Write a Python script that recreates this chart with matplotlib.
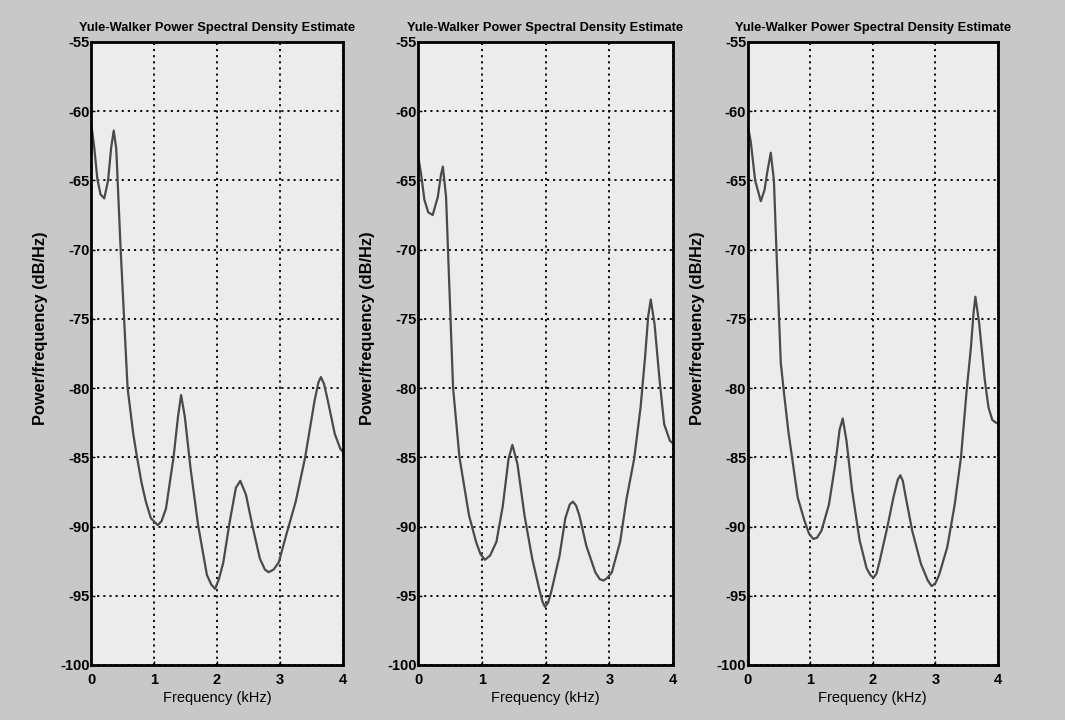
import matplotlib

matplotlib.use("Agg")
import matplotlib.pyplot as plt

plt.rcParams["axes.unicode_minus"] = False

TITLE = "Yule-Walker Power Spectral Density Estimate"
XLABEL = "Frequency (kHz)"
YLABEL = "Power/frequency (dB/Hz)"
XTICKS = [0, 1, 2, 3, 4]
YTICKS = [-100, -95, -90, -85, -80, -75, -70, -65, -60, -55]

# values (kHz, dB/Hz)
freq1 = [0.0, 0.05, 0.10, 0.15, 0.21, 0.27, 0.32, 0.36, 0.40, 0.47, 0.58, 0.67, 0.73,
         0.80, 0.87, 0.95, 1.06, 1.12, 1.19, 1.31, 1.38, 1.43, 1.49, 1.58, 1.70, 1.84,
         1.91, 1.97, 2.03, 2.10, 2.20, 2.30, 2.37, 2.46, 2.57, 2.68, 2.76, 2.82, 2.90,
         2.98, 3.10, 3.25, 3.40, 3.55, 3.61, 3.65, 3.70, 3.76, 3.87, 3.96, 4.0]
psd1 = [-60.8, -62.6, -64.9, -66.0, -66.3, -65.0, -62.6, -61.4, -62.7, -70.0, -80.0,
        -83.3, -85.0, -86.8, -88.2, -89.4, -89.9, -89.6, -88.7, -85.0, -82.1, -80.5,
        -82.1, -85.8, -89.9, -93.5, -94.2, -94.5, -93.8, -92.6, -89.7, -87.2, -86.7,
        -87.7, -90.1, -92.3, -93.1, -93.3, -93.1, -92.6, -90.6, -88.2, -85.0, -80.9,
        -79.6, -79.2, -79.7, -80.9, -83.3, -84.4, -84.6]

freq2 = [0.0, 0.05, 0.10, 0.16, 0.23, 0.31, 0.36, 0.39, 0.44, 0.47, 0.55, 0.65, 0.80,
         0.91, 0.98, 1.05, 1.13, 1.23, 1.33, 1.42, 1.48, 1.56, 1.67, 1.79, 1.90, 1.95,
         1.99, 2.04, 2.09, 2.22, 2.31, 2.38, 2.43, 2.48, 2.53, 2.64, 2.78, 2.85, 2.91,
         2.97, 3.04, 3.17, 3.27, 3.39, 3.49, 3.56, 3.61, 3.65, 3.71, 3.79, 3.86, 3.95,
         4.0]
psd2 = [-63.2, -64.6, -66.4, -67.3, -67.5, -66.2, -64.6, -64.0, -66.2, -70.0, -80.0,
        -85.0, -89.2, -91.1, -92.0, -92.4, -92.1, -91.1, -88.5, -85.1, -84.1, -85.5,
        -89.2, -92.3, -94.5, -95.4, -95.8, -95.5, -94.7, -92.1, -89.4, -88.4, -88.2,
        -88.5, -89.2, -91.4, -93.3, -93.8, -93.9, -93.7, -93.3, -91.1, -88.0, -85.1,
        -81.4, -77.8, -74.8, -73.6, -75.4, -79.5, -82.6, -83.8, -84.0]

freq3 = [0.0, 0.05, 0.12, 0.21, 0.27, 0.31, 0.37, 0.42, 0.46, 0.53, 0.59, 0.65, 0.71,
         0.80, 0.91, 0.98, 1.05, 1.11, 1.18, 1.30, 1.40, 1.47, 1.52, 1.58, 1.67, 1.79,
         1.90, 1.96, 2.01, 2.06, 2.11, 2.23, 2.33, 2.40, 2.44, 2.48, 2.52, 2.63, 2.77,
         2.88, 2.94, 3.00, 3.06, 3.19, 3.31, 3.41, 3.50, 3.57, 3.61, 3.64, 3.70, 3.79,
         3.85, 3.91, 3.97]
psd3 = [-61.0, -62.2, -65.0, -66.5, -65.7, -64.5, -63.0, -65.0, -70.0, -78.2, -80.7,
        -83.1, -85.0, -87.9, -89.6, -90.5, -90.9, -90.8, -90.3, -88.4, -85.5, -83.0,
        -82.2, -83.8, -87.4, -91.0, -93.0, -93.5, -93.7, -93.4, -92.5, -90.1, -87.9,
        -86.6, -86.3, -86.7, -87.7, -90.3, -92.7, -93.9, -94.3, -94.1, -93.5, -91.5,
        -88.4, -85.0, -80.2, -77.0, -74.6, -73.4, -75.3, -79.4, -81.4, -82.3, -82.5]

panels = [(freq1, psd1), (freq2, psd2), (freq3, psd3)]
axes_x = [(0.0855, 0.322), (0.3925, 0.632), (0.702, 0.937)]

FONT = ["Liberation Sans", "DejaVu Sans"]

fig = plt.figure(figsize=(10.65, 7.2), dpi=100, facecolor="#c8c8c8")
for (f, p), (x0, x1) in zip(panels, axes_x):
    ax = fig.add_axes([x0, 0.0764, x1 - x0, 0.9417 - 0.0764], facecolor="#ececec")
    ax.plot(f, p, color="#4a4a4a", lw=1.6, solid_joinstyle="round")
    ax.set_xlim(0, 4)
    ax.set_ylim(-100, -55)
    ax.set_xticks(XTICKS)
    ax.set_yticks(YTICKS)
    ax.grid(True, color="black", linestyle=(0, (1.2, 2.2)), linewidth=1.3)
    ax.tick_params(direction="in", length=3, width=1, labelsize=10.5)
    ax.tick_params(axis="x", pad=6)
    ax.tick_params(axis="y", pad=1)
    for lab in ax.get_xticklabels() + ax.get_yticklabels():
        lab.set_family(FONT)
        lab.set_fontweight("bold")
    for s in ax.spines.values():
        s.set_linewidth(2.0)
        s.set_color("black")
    ax.set_title(TITLE, fontsize=9.3, family=FONT, fontweight="bold", pad=8)
    ax.set_xlabel(XLABEL, fontsize=10.5, family=FONT, labelpad=3)
    ax.set_ylabel(YLABEL, fontsize=11.8, family=FONT, fontweight="bold")
    ax.yaxis.set_label_coords(-0.17, 0.54)

fig.savefig("out.png", dpi=100, facecolor=fig.get_facecolor())
